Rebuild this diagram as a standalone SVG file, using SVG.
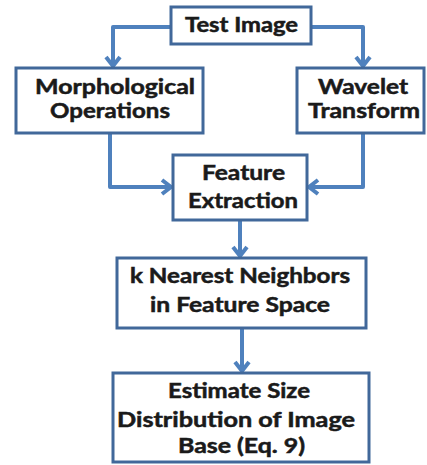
<svg xmlns="http://www.w3.org/2000/svg" width="427" height="465" viewBox="0 0 427 465">
  <style>
    .box { fill: #ffffff; stroke: #41689a; stroke-width: 3; }
    .lbl { font-family: Lato, "Open Sans", "Liberation Sans", sans-serif; font-weight: bold; font-size: 20px; fill: #1a1a1a; stroke: #1a1a1a; stroke-width: 0.5; }
    .wire { fill: none; stroke: #4f81bd; stroke-width: 4; stroke-linejoin: round; }
  </style>
  <defs>
    <marker id="head" markerUnits="userSpaceOnUse" markerWidth="20" markerHeight="20" viewBox="-12 -10 14 20" refX="0" refY="0" orient="auto">
      <path d="M-9,-7 L0,0 L-9,7" fill="none" stroke="#4f81bd" stroke-width="4" stroke-linejoin="miter"/>
    </marker>
  </defs>

  <g id="connectors">
    <path class="wire" d="M171,27 H113 V66" marker-end="url(#head)"/>
    <path class="wire" d="M311,27 H363 V66" marker-end="url(#head)"/>
    <path class="wire" d="M110,133 V187 H171" marker-end="url(#head)"/>
    <path class="wire" d="M363,133 V187 H309" marker-end="url(#head)"/>
    <path class="wire" d="M240,220 V256" marker-end="url(#head)"/>
    <path class="wire" d="M242,328 V371" marker-end="url(#head)"/>
  </g>

  <g id="test-image">
    <rect class="box" x="171" y="7" width="140" height="37"/>
    <text class="lbl" x="185" y="32" textLength="113" lengthAdjust="spacingAndGlyphs">Test Image</text>
  </g>

  <g id="morphological">
    <rect class="box" x="16" y="68" width="187" height="65"/>
    <text class="lbl" x="35" y="94" textLength="160" lengthAdjust="spacingAndGlyphs">Morphological</text>
    <text class="lbl" x="50" y="118" textLength="120" lengthAdjust="spacingAndGlyphs">Operations</text>
  </g>

  <g id="wavelet">
    <rect class="box" x="297" y="68" width="127" height="65"/>
    <text class="lbl" x="318" y="94" textLength="90" lengthAdjust="spacingAndGlyphs">Wavelet</text>
    <text class="lbl" x="308" y="118" textLength="112" lengthAdjust="spacingAndGlyphs">Transform</text>
  </g>

  <g id="feature-extraction">
    <rect class="box" x="173" y="155" width="134" height="65"/>
    <text class="lbl" x="202" y="180" textLength="83" lengthAdjust="spacingAndGlyphs">Feature</text>
    <text class="lbl" x="188" y="208" textLength="110" lengthAdjust="spacingAndGlyphs">Extraction</text>
  </g>

  <g id="knn">
    <rect class="box" x="117" y="258" width="249" height="70"/>
    <text class="lbl" x="130" y="283" textLength="220" lengthAdjust="spacingAndGlyphs">k Nearest Neighbors</text>
    <text class="lbl" x="150" y="312" textLength="180" lengthAdjust="spacingAndGlyphs">in Feature Space</text>
  </g>

  <g id="estimate">
    <rect class="box" x="113" y="373" width="256" height="89"/>
    <text class="lbl" x="168" y="398" textLength="142" lengthAdjust="spacingAndGlyphs">Estimate Size</text>
    <text class="lbl" x="117" y="427" textLength="238" lengthAdjust="spacingAndGlyphs">Distribution of Image</text>
    <text class="lbl" x="178" y="453" textLength="127" lengthAdjust="spacingAndGlyphs">Base (Eq. 9)</text>
  </g>
</svg>
